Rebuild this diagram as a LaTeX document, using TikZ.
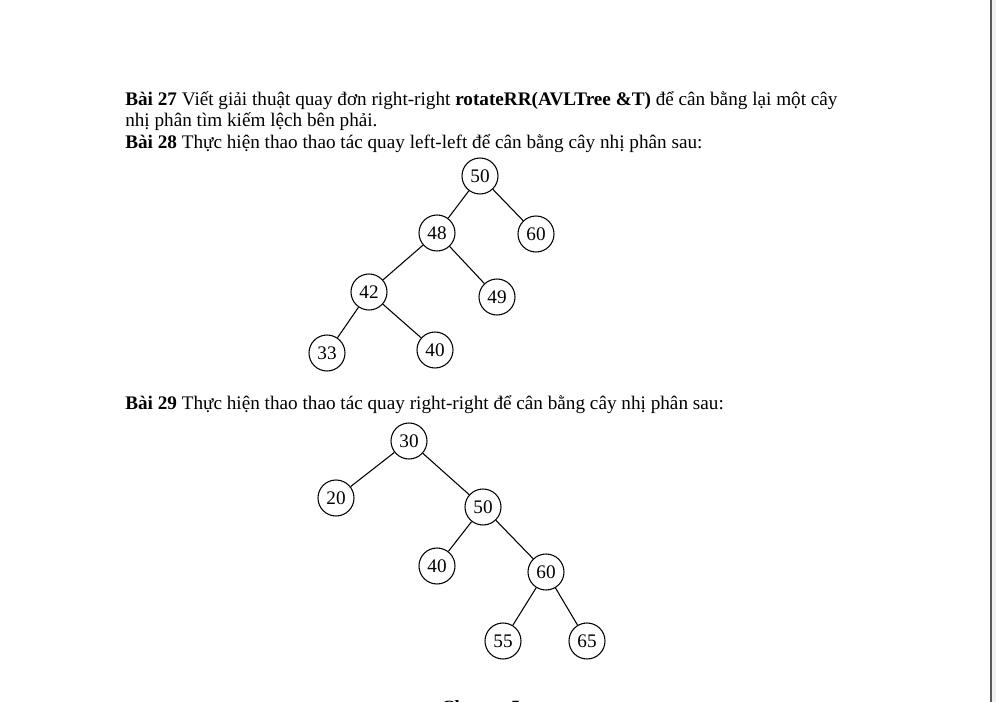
\documentclass[tikz,border=0pt]{standalone}
\usepackage{fontspec}
\setmainfont{Liberation Serif}
\usetikzlibrary{positioning}

\begin{document}
\begin{tikzpicture}[x=0.75pt, y=-0.75pt, font=\fontsize{14.4}{16}\selectfont,
  key/.style={draw, circle, line width=0.8pt, minimum size=27pt, inner sep=0pt},
  line/.style={anchor=base west, inner sep=0pt}]

% page
\useasboundingbox (0,0) rectangle (996,702);
\fill[white] (0,0) rectangle (996,702);
\fill[gray!12] (991,0) rectangle (996,702);
\draw[gray!70!black, thick] (991,0) -- (991,702);

% text
\node[line] (l1) at (125,106) {\textbf{Bài 27} Viết giải thuật quay đơn right-right \textbf{rotateRR(AVLTree \&T)} để cân bằng lại một cây};
\node[line] (l2) at (125,127) {nhị phân tìm kiếm lệch bên phải.};
\node[line] (l3) at (125,149) {\textbf{Bài 28} Thực hiện thao thao tác quay left-left để cân bằng cây nhị phân sau:};
\node[line] (l4) at (125,409) {\textbf{Bài 29} Thực hiện thao thao tác quay right-right để cân bằng cây nhị phân sau:};
\node[line, font=\fontsize{14}{16}\bfseries] (ch) at (441,713) {Chương 5};

% tree for Bai 28
\node[key] (a50) at (480,176) {50};
\node[key] (a48) at (437,233) {48};
\node[key] (a60) at (536,234) {60};
\node[key] (a42) at (369,292) {42};
\node[key] (a49) at (497,297) {49};
\node[key] (a33) at (327,353) {33};
\node[key] (a40) at (435,350) {40};

\draw[line width=0.8pt] (a50) -- (a48) (a50) -- (a60)
      (a48) -- (a42) (a48) -- (a49)
      (a42) -- (a33) (a42) -- (a40) ;

% tree for Bai 29
\node[key] (b30) at (409,441) {30};
\node[key] (b20) at (336,498) {20};
\node[key] (b50) at (483,507) {50};
\node[key] (b40) at (437,566) {40};
\node[key] (b60) at (546,572) {60};
\node[key] (b55) at (503,641) {55};
\node[key] (b65) at (587,641) {65};

\draw[line width=0.8pt] (b30) -- (b20) (b30) -- (b50)
      (b50) -- (b40) (b50) -- (b60)
      (b60) -- (b55) (b60) -- (b65) ;

\end{tikzpicture}
\end{document}
